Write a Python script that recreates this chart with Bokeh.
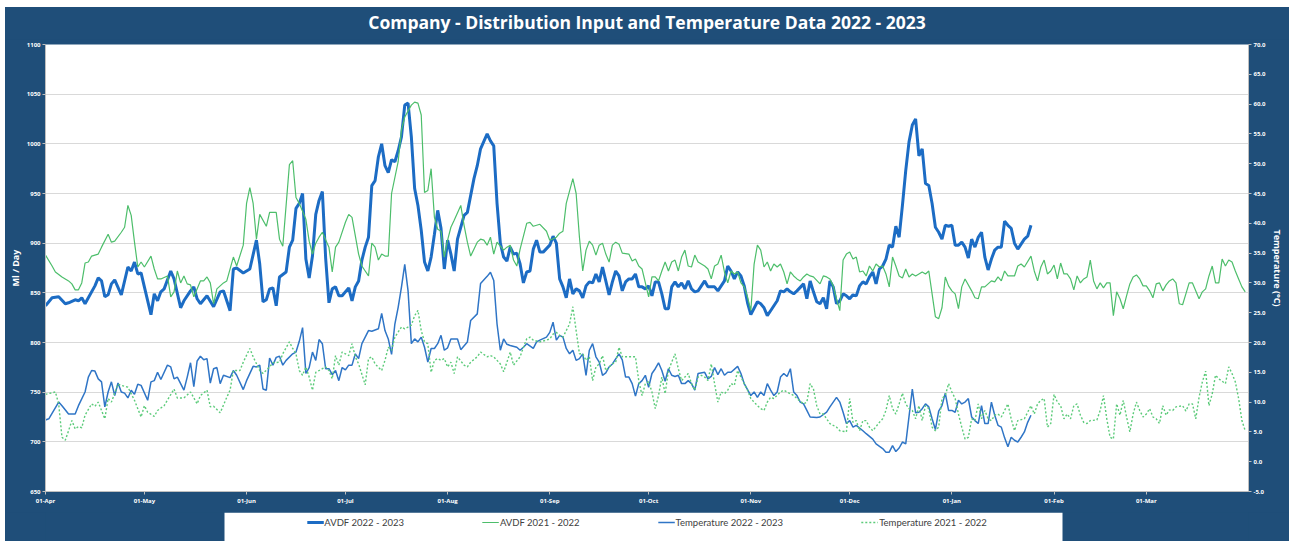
import pandas as pd
from bokeh.plotting import figure
from bokeh.layouts import column
from bokeh.models import (Range1d, LinearAxis, FixedTicker, NumeralTickFormatter,
                          DatetimeTickFormatter, Legend, LegendItem, BoxAnnotation, Div)
from bokeh.embed import file_html
from bokeh.resources import INLINE

TITLE = "Company - Distribution Input and Temperature Data 2022 - 2023"
START = pd.Timestamp("2022-04-01")
END = pd.Timestamp("2023-04-01")
month_starts = pd.date_range("2022-04-01", "2023-03-01", freq="MS")
avdf_ticks = list(range(650, 1101, 50))
temp_ticks = [-5.0, 0.0, 5.0, 10.0, 15.0, 20.0, 25.0, 30.0, 35.0, 40.0, 45.0, 50.0, 55.0, 60.0, 65.0, 70.0]
labels = ["AVDF 2022 - 2023", "AVDF 2021 - 2022", "Temperature 2022 - 2023", "Temperature 2021 - 2022"]

# (day since 01-Apr, Ml/day)
avdf_2223 = [
    (0, 837), (2, 845), (4, 846), (6, 839), (7, 840), (9, 843), (10, 842), (11, 845), (12, 839), (13, 845),
    (15, 857), (16, 865), (17, 862), (18, 846), (19, 848), (20, 859), (21, 863), (23, 848), (25, 876), (26, 872),
    (27, 881), (28, 869), (29, 870), (30, 856), (32, 828), (33, 849), (34, 842), (35, 851), (36, 854), (38, 872),
    (39, 864), (41, 835), (42, 842), (44, 852), (45, 856), (46, 844), (47, 839), (49, 847), (51, 836), (53, 851),
    (54, 852), (56, 832), (57, 874), (58, 875), (60, 870), (61, 872), (62, 874), (64, 903), (65, 879), (66, 841),
    (67, 843), (68, 854), (69, 855), (70, 837), (71, 866), (73, 871), (74, 896), (75, 903),
    (76, 935), (77, 940), (78, 950), (79, 884), (80, 865), (81, 887), (82, 929), (83, 943), (84, 952), (85, 885),
    (86, 840), (87, 854), (88, 856), (89, 847), (90, 847), (92, 855), (93, 842), (94, 856), (95, 862), (96, 883),
    (97, 896), (98, 906), (99, 958), (100, 963), (101, 987), (102, 1000), (103, 978), (104, 971), (105, 984),
    (106, 982), (107, 993), (108, 1007), (109, 1039), (110, 1041), (111, 1007), (112, 955), (113, 938), (114, 913),
    (115, 881), (116, 872), (117, 886), (118, 909), (119, 933), (120, 915), (121, 874), (122, 903), (123, 889),
    (124, 872), (125, 904), (127, 928), (128, 931), (130, 965), (131, 978), (132, 995), (134, 1010), (135, 1003),
    (136, 998), (137, 940), (138, 900), (139, 886), (140, 882), (141, 896), (142, 889), (143, 890), (144, 879),
    (145, 860), (146, 871), (147, 872), (148, 894),
    (149, 903), (150, 891), (151, 891), (153, 898), (154, 907), (155, 900), (156, 864), (157, 856), (158, 845),
    (159, 864), (160, 849), (161, 854), (162, 852), (163, 845), (164, 857), (165, 861), (166, 860), (167, 869),
    (168, 861), (169, 876), (170, 862), (171, 848), (172, 861), (173, 872), (174, 867), (175, 852), (176, 861),
    (177, 864), (178, 864), (179, 869), (180, 856), (181, 856), (182, 854), (183, 857), (184, 847), (185, 861),
    (186, 861), (187, 849), (188, 834), (189, 834), (190, 856), (191, 861), (192, 856), (193, 860), (194, 854),
    (195, 862), (196, 854), (197, 851), (198, 852), (199, 857), (200, 862), (201, 856), (202, 856), (203, 856),
    (204, 852), (205, 857), (206, 862), (207, 877), (208, 872), (209, 864), (210, 871), (211, 867), (212, 857),
    (213, 840), (214, 828), (216, 841), (217, 839), (218, 835), (219, 827), (220, 832),
    (221, 837), (222, 842), (223, 852), (224, 851), (225, 854), (226, 851), (227, 849), (228, 852), (230, 859),
    (231, 844), (232, 862), (233, 851), (234, 841), (235, 839), (236, 845), (237, 834), (238, 862), (239, 856),
    (240, 839), (241, 842), (242, 849), (243, 847), (244, 844), (245, 848), (246, 847), (247, 857), (248, 861),
    (249, 859), (250, 866), (251, 871), (252, 859), (253, 874), (254, 877), (255, 884), (256, 898), (257, 896),
    (258, 917), (259, 906), (260, 938), (261, 973), (262, 1002), (263, 1019), (264, 1025), (265, 988), (266, 995),
    (267, 960), (268, 958), (269, 940), (270, 916), (271, 911), (272, 904), (273, 918), (274, 917), (275, 918),
    (276, 898), (277, 898), (278, 901), (279, 896), (280, 885), (281, 904), (282, 896), (283, 906), (284, 911),
    (285, 886), (286, 873), (287, 884), (288, 893), (289, 896), (290, 896), (291, 922), (292, 918), (293, 915),
    (294, 900), (295, 894), (296, 899), (297, 904), (298, 907), (299, 918),
]

avdf_2122 = [
    (0, 888), (2, 877), (3, 871), (5, 866), (7, 862), (8, 859), (9, 853), (10, 853), (11, 860), (12, 880),
    (13, 881), (14, 887), (16, 889), (17, 896), (19, 909), (20, 901), (21, 902), (23, 911), (24, 916), (25, 938),
    (26, 928), (27, 901), (28, 876), (29, 881), (30, 876), (32, 887), (33, 874), (34, 864), (35, 864), (37, 867),
    (38, 846), (39, 851), (40, 872), (41, 860), (42, 867), (43, 859), (44, 858), (45, 846), (47, 862), (48, 862),
    (49, 866), (50, 860), (51, 839), (52, 854), (54, 860), (55, 862), (57, 886), (58, 877), (60, 898), (61, 940),
    (62, 956), (63, 940), (64, 904), (65, 929), (67, 917), (68, 931), (70, 931), (71, 904), (72, 897), (74, 979),
    (75, 983),
    (76, 946), (77, 940), (78, 932), (79, 924), (80, 902), (81, 889), (82, 900), (83, 906), (84, 911), (86, 896),
    (87, 871), (88, 896), (89, 901), (91, 921), (92, 929), (93, 926), (95, 889), (96, 877), (97, 872), (98, 867),
    (99, 900), (100, 896), (101, 883), (102, 889), (103, 887), (104, 887), (105, 950), (107, 982), (108, 1014),
    (109, 1027), (111, 1039), (112, 1042), (113, 1041), (114, 1029), (115, 951), (116, 953), (117, 975),
    (118, 926), (119, 914), (120, 912), (121, 886), (122, 903), (123, 916), (124, 923), (126, 938), (127, 918),
    (128, 901), (129, 887), (131, 901), (132, 904), (133, 903), (134, 898), (135, 906), (136, 889), (137, 901),
    (139, 893), (140, 896), (141, 898), (142, 883), (143, 877), (144, 894), (146, 920), (147, 921),
    (148, 917), (150, 919), (152, 912), (153, 903), (155, 906), (156, 910), (157, 912), (158, 940), (160, 965),
    (161, 950), (162, 906), (163, 872), (164, 893), (165, 902), (166, 898), (167, 888), (168, 898), (169, 900),
    (170, 889), (171, 881), (172, 898), (173, 901), (174, 899), (175, 890), (177, 889), (178, 882), (179, 884),
    (180, 877), (181, 874), (182, 860), (183, 846), (184, 866), (185, 866), (186, 862), (187, 872), (188, 881),
    (189, 872), (190, 881), (191, 883), (192, 872), (193, 886), (194, 893), (195, 877), (196, 876), (197, 888),
    (198, 881), (199, 879), (200, 877), (201, 874), (202, 864), (203, 877), (204, 879), (205, 888), (206, 871),
    (207, 860), (208, 872), (209, 869), (210, 871), (211, 860), (212, 856), (213, 846), (214, 832), (215, 879),
    (216, 898), (217, 893), (218, 876), (219, 881), (220, 872),
    (221, 879), (222, 876), (223, 879), (224, 871), (225, 859), (226, 871), (227, 867), (228, 864), (229, 862),
    (230, 866), (231, 869), (232, 867), (233, 866), (235, 859), (236, 867), (237, 866), (238, 864), (239, 857),
    (240, 844), (241, 832), (242, 883), (243, 889), (244, 891), (245, 884), (246, 886), (247, 871), (248, 872),
    (249, 867), (250, 877), (251, 872), (252, 879), (253, 876), (254, 877), (255, 869), (256, 856), (257, 886),
    (258, 877), (259, 867), (260, 865), (261, 874), (262, 866), (263, 869), (264, 867), (265, 869), (266, 871),
    (267, 869), (268, 872), (269, 849), (270, 826), (271, 824), (272, 835), (273, 866), (274, 857), (275, 852),
    (276, 849), (277, 834), (278, 856), (279, 864), (281, 852), (282, 845), (283, 844), (284, 856), (285, 856),
    (287, 862), (288, 861), (289, 866), (290, 862), (291, 872), (292, 867),
    (293, 867), (294, 867), (295, 877), (296, 879), (297, 876), (299, 887), (300, 872), (301, 862), (302, 876),
    (303, 883), (304, 869), (305, 872), (306, 878), (307, 864), (308, 880), (309, 869), (310, 869), (311, 864),
    (312, 853), (313, 867), (314, 860), (315, 864), (316, 866), (317, 883), (318, 862), (319, 854), (320, 860),
    (321, 855), (322, 860), (323, 860), (324, 827), (325, 851), (326, 844), (327, 834), (328, 847), (329, 859),
    (330, 866), (331, 868), (332, 864), (333, 857), (334, 857), (335, 852), (336, 845), (337, 859), (338, 860),
    (339, 852), (340, 858), (341, 862), (342, 864), (343, 860), (344, 839), (345, 838), (346, 849), (347, 860),
    (348, 860), (350, 844), (351, 851), (352, 854), (353, 867), (354, 877), (355, 860), (356, 860), (357, 884),
    (358, 877), (359, 883), (360, 881), (361, 872), (362, 864), (363, 856), (364, 851),
]

# (day since 01-Apr, degrees C)
temp_2223 = [
    (0, 7.0), (1, 7.2), (4, 10.0), (5, 9.4), (7, 8.0), (9, 8.0), (10, 9.4), (12, 11.7), (13, 14.2), (14, 15.3),
    (15, 15.2), (16, 13.9), (17, 13.4), (18, 9.2), (19, 11.7), (20, 13.4), (21, 11.1), (22, 13.2), (23, 11.7),
    (24, 11.5), (25, 10.7), (26, 12.0), (27, 11.3), (28, 13.0), (29, 12.8), (31, 10.3), (32, 13.4), (33, 13.6),
    (34, 15.0), (35, 13.8), (37, 16.2), (38, 15.9), (39, 13.9), (40, 14.2), (42, 12.0), (43, 14.2), (44, 16.6),
    (45, 12.6), (46, 16.9), (47, 17.7), (48, 17.1), (49, 17.3), (50, 13.2), (51, 15.6), (52, 15.8), (53, 13.1),
    (54, 14.5), (56, 14.1), (57, 15.3), (58, 14.5), (60, 12.1), (61, 13.6), (63, 16.0), (64, 15.9), (65, 16.2),
    (66, 12.2), (67, 12.0), (68, 17.4), (69, 16.2), (70, 17.5), (71, 17.7), (72, 16.2), (73, 17.0), (75, 18.1),
    (76, 18.4), (77, 20.2), (78, 22.5), (79, 14.8), (80, 15.8), (81, 18.4), (82, 17.0), (83, 20.5), (84, 19.8),
    (85, 15.6), (86, 15.6), (87, 14.6), (88, 15.3), (89, 13.6), (90, 15.8), (91, 15.4), (92, 16.2), (93, 16.2),
    (94, 18.1), (95, 17.3), (96, 19.8), (98, 22.0), (99, 21.9), (101, 22.3), (102, 24.9), (103, 22.0), (104, 20.6),
    (105, 18.0), (106, 23.1), (107, 25.9), (108, 29.3), (109, 33.1), (110, 28.7), (111, 19.8), (112, 20.6),
    (113, 20.1), (114, 20.9), (115, 19.2), (116, 16.7), (117, 19.0), (118, 19.0), (119, 19.8), (120, 21.2),
    (121, 18.7), (122, 19.1), (123, 20.6), (124, 20.6), (125, 20.6), (126, 18.8), (128, 20.1), (129, 23.7),
    (131, 24.8), (132, 29.9), (134, 31.1), (135, 31.8), (136, 30.4), (137, 23.1), (138, 18.7), (139, 20.6),
    (140, 19.7), (141, 19.5), (143, 19.2), (144, 18.7), (145, 19.2), (146, 19.8), (148, 19.0),
    (149, 20.1), (150, 20.4), (152, 20.9), (153, 21.7), (154, 23.4), (155, 20.4), (156, 21.2), (157, 20.9),
    (158, 19.0), (159, 18.1), (160, 18.7), (161, 17.0), (162, 17.3), (163, 18.1), (164, 14.5), (165, 18.7),
    (166, 19.8), (167, 17.6), (168, 16.7), (169, 14.5), (170, 14.9), (171, 15.9), (172, 16.4), (174, 18.1),
    (175, 17.1), (176, 14.2), (177, 14.2), (178, 13.1), (179, 11.0), (180, 13.1), (181, 13.6), (182, 14.5),
    (183, 12.5), (184, 14.8), (185, 15.6), (186, 16.6), (187, 15.3), (188, 13.5), (189, 15.6), (190, 14.5),
    (191, 14.3), (192, 14.5), (193, 13.1), (194, 13.1), (195, 13.6), (196, 13.1), (197, 12.0), (198, 14.8),
    (200, 15.0), (201, 13.9), (202, 14.3), (203, 15.8), (204, 14.6), (205, 15.6), (206, 14.5), (207, 15.0),
    (208, 15.0), (210, 16.0), (211, 14.8), (212, 13.1), (213, 12.1), (214, 11.1), (215, 11.7), (216, 10.8),
    (217, 11.7), (218, 11.1), (219, 13.1), (220, 12.0),
    (221, 11.1), (222, 11.7), (223, 14.2), (224, 14.8), (225, 14.3), (226, 15.6), (227, 11.7), (228, 11.1),
    (229, 10.0), (230, 9.7), (231, 8.6), (232, 7.5), (234, 7.4), (235, 7.5), (237, 8.3), (238, 9.2), (240, 10.8),
    (241, 10.0), (242, 8.3), (243, 6.4), (244, 6.9), (245, 5.8), (246, 6.1), (248, 5.2), (249, 4.7), (251, 3.8),
    (252, 3.0), (254, 2.2), (255, 1.6), (256, 1.6), (257, 2.7), (258, 1.7), (259, 2.3), (260, 3.3), (261, 3.0),
    (263, 12.2), (264, 8.2), (265, 8.3), (266, 8.9), (267, 9.7), (268, 9.2), (269, 7.2), (270, 5.4), (271, 8.5),
    (272, 9.4), (273, 11.5), (274, 8.6), (275, 8.6), (276, 8.3), (277, 10.3), (278, 9.7), (279, 10.0), (280, 10.6),
    (281, 7.5), (282, 6.9), (283, 6.4), (284, 9.4), (285, 6.4), (286, 6.4), (287, 10.0), (288, 7.8), (289, 6.1),
    (290, 5.8), (291, 4.0), (292, 2.5), (293, 4.1), (294, 3.6), (295, 3.3), (296, 4.1), (297, 5.0), (298, 6.6),
    (299, 7.8),
]

temp_2122 = [
    (0, 11.3), (3, 11.7), (4, 9.7), (5, 4.1), (6, 3.6), (7, 5.2), (8, 6.9), (9, 5.5), (10, 5.9), (11, 5.7),
    (12, 7.8), (14, 9.7), (15, 9.3), (16, 10.0), (18, 7.2), (19, 10.6), (20, 10.0), (22, 13.0), (23, 12.8),
    (25, 12.5), (27, 10.3), (29, 7.5), (30, 9.4), (31, 8.3), (33, 7.6), (34, 8.6), (36, 9.4), (39, 12.2),
    (40, 10.7), (42, 10.7), (44, 11.7), (46, 9.7), (47, 11.1), (49, 12.0), (50, 9.2), (51, 9.3), (53, 8.2),
    (55, 10.8), (56, 12.0), (57, 15.3), (59, 15.3), (60, 16.7), (62, 19.0), (63, 17.6), (65, 15.3), (66, 14.8),
    (68, 15.9), (69, 16.6), (71, 16.7), (72, 18.1), (74, 20.1), (75, 19.0),
    (76, 18.1), (77, 15.3), (78, 14.5), (79, 15.9), (80, 14.2), (81, 12.0), (82, 15.0), (84, 15.6), (85, 15.9),
    (86, 15.3), (87, 13.9), (88, 17.8), (89, 16.2), (90, 18.4), (91, 18.1), (92, 17.8), (93, 19.8), (94, 17.6),
    (95, 16.4), (97, 12.9), (98, 17.3), (99, 17.6), (100, 16.4), (102, 15.3), (103, 17.0), (104, 19.2),
    (105, 18.7), (106, 20.9), (108, 22.6), (109, 22.3), (111, 22.9), (112, 24.5), (113, 25.4), (114, 22.0),
    (115, 20.1), (116, 19.8), (117, 15.0), (118, 17.0), (119, 17.3), (120, 17.0), (121, 17.3), (122, 15.9),
    (123, 16.7), (124, 14.8), (125, 17.6), (127, 16.2), (128, 15.9), (129, 16.7), (131, 17.6), (132, 18.4),
    (134, 17.6), (135, 17.8), (136, 17.6), (138, 16.4), (139, 15.1), (140, 16.7), (141, 18.4), (142, 16.2),
    (144, 17.6), (145, 19.2), (146, 20.6), (147, 20.9),
    (148, 20.4), (150, 20.1), (152, 20.4), (153, 20.6), (154, 21.4), (155, 21.7), (156, 21.2), (157, 20.9),
    (159, 23.1), (160, 26.0), (161, 22.0), (162, 18.1), (163, 18.1), (164, 17.0), (165, 17.6), (166, 13.6),
    (167, 15.9), (168, 16.4), (169, 17.8), (170, 15.3), (171, 15.9), (172, 16.4), (173, 16.7), (174, 19.2),
    (175, 17.6), (176, 17.6), (177, 17.6), (179, 17.6), (180, 13.6), (181, 11.1), (182, 13.1), (183, 13.4),
    (184, 11.7), (185, 8.9), (186, 11.1), (187, 14.2), (188, 11.4), (189, 15.3), (190, 16.7), (191, 18.1),
    (192, 15.6), (193, 13.6), (194, 14.2), (195, 14.8), (196, 13.1), (197, 12.0), (198, 14.2), (199, 14.5),
    (200, 14.2), (201, 13.6), (202, 16.4), (203, 13.1), (204, 10.0), (205, 11.7), (206, 11.4), (207, 12.0),
    (208, 13.1), (209, 12.8), (210, 15.3), (211, 14.2), (212, 13.1), (213, 12.0), (214, 10.6), (215, 10.0),
    (216, 9.4), (217, 8.9), (218, 8.6), (219, 10.0), (220, 10.8),
    (221, 10.6), (223, 11.7), (224, 12.0), (225, 11.7), (227, 11.1), (228, 10.6), (230, 9.7), (231, 10.0),
    (232, 13.1), (233, 12.2), (234, 9.4), (235, 8.0), (236, 8.0), (237, 7.2), (238, 6.4), (240, 5.8), (241, 5.2),
    (243, 5.0), (244, 10.6), (245, 6.6), (246, 6.9), (247, 5.2), (248, 6.9), (249, 6.9), (250, 5.8), (251, 5.2),
    (253, 6.6), (254, 7.2), (255, 8.6), (256, 11.1), (257, 8.9), (258, 8.0), (259, 9.7), (260, 11.5), (261, 9.7),
    (262, 8.9), (263, 8.6), (264, 7.2), (265, 9.4), (266, 6.9), (267, 9.4), (268, 8.9), (269, 5.8), (270, 5.2),
    (271, 5.8), (272, 10.6), (273, 11.1), (274, 13.1), (275, 11.7), (276, 10.6), (277, 8.0), (278, 5.8),
    (279, 3.8), (280, 4.1), (281, 7.2), (282, 6.9), (283, 9.7), (284, 7.2), (285, 8.6), (286, 7.2), (287, 6.9),
    (288, 7.8), (289, 8.0), (290, 7.5), (291, 8.6), (292, 9.7),
    (293, 7.2), (294, 5.2), (295, 6.9), (297, 7.2), (298, 8.3), (299, 9.4), (300, 8.0), (301, 9.7), (302, 10.3),
    (303, 10.6), (304, 5.8), (305, 6.4), (306, 11.3), (307, 10.0), (308, 9.4), (309, 7.2), (310, 8.0), (311, 7.2),
    (312, 9.4), (313, 9.7), (314, 7.8), (315, 6.6), (316, 6.4), (317, 6.9), (319, 7.0), (320, 8.6), (321, 11.1),
    (322, 7.2), (323, 4.1), (324, 3.8), (325, 9.7), (326, 7.8), (327, 10.3), (328, 7.5), (329, 5.0), (330, 8.0),
    (331, 10.0), (332, 8.6), (333, 7.5), (334, 8.0), (335, 8.9), (336, 7.5), (337, 7.2), (338, 6.4), (339, 9.4),
    (340, 7.8), (341, 8.7), (342, 8.6), (343, 9.2), (345, 9.4), (346, 8.5), (347, 9.7), (348, 9.7), (349, 7.2),
    (350, 10.8), (351, 13.4), (352, 15.2), (353, 9.4), (354, 11.4), (355, 14.5), (356, 13.9), (357, 13.5),
    (358, 13.1), (359, 15.9), (360, 14.8), (361, 13.4), (362, 10.6), (363, 6.9), (364, 5.2),
]


def xs(pairs):
    return pd.DatetimeIndex([START + pd.Timedelta(days=d) for d, _ in pairs])


def ys(pairs):
    return [v for _, v in pairs]


BG = "#1F4E79"
GRID = "#D9D9D9"
AX = "#BFBFBF"
FONT = "Open Sans"
STYLES = [
    dict(line_color="#1C6CC4", line_width=3),
    dict(line_color="#4DBE6B", line_width=1.2),
    dict(line_color="#2F75C6", line_width=1.5),
    dict(line_color="#5CCB7A", line_width=1.4, line_dash="2 2"),
]
BORDER_L, BORDER_R = 38, 41

# title strip
head = Div(text=TITLE, width=1284, height=32, margin=0,
           styles={"background-color": BG, "color": "white", "font-family": FONT,
                   "font-weight": "bold", "font-size": "17.5px", "text-align": "center",
                   "line-height": "30px", "white-space": "nowrap"})

p = figure(width=1284, height=473, x_axis_type="datetime", output_backend="svg",
           toolbar_location=None, margin=0,
           x_range=Range1d(START, END), y_range=Range1d(650, 1100),
           min_border_left=BORDER_L, min_border_right=BORDER_R, min_border_top=5, min_border_bottom=21,
           border_fill_color=BG, background_fill_color="white", outline_line_color=None)
p.extra_y_ranges = {"temp": Range1d(-5, 70)}

ra = LinearAxis(y_range_name="temp", axis_label="Temperature (°C)",
                ticker=FixedTicker(ticks=temp_ticks),
                formatter=NumeralTickFormatter(format="0.0"))
p.add_layout(ra, "right")

p.yaxis[0].ticker = FixedTicker(ticks=avdf_ticks)
p.yaxis[0].axis_label = "Ml / Day"
p.xaxis[0].ticker = FixedTicker(ticks=[float(t.value // 10**6) for t in month_starts])
p.xaxis[0].formatter = DatetimeTickFormatter(days="%d-%b", months="%d-%b", years="%d-%b",
                                             strip_leading_zeros=False)

for ax in [p.xaxis[0], p.yaxis[0], ra]:
    ax.major_label_text_color = "white"
    ax.major_label_text_font = FONT
    ax.major_label_text_font_size = "6px"
    ax.major_label_text_font_style = "bold"
    ax.major_label_standoff = 2
    ax.axis_line_color = AX
    ax.major_tick_line_color = AX
    ax.major_tick_in = 0
    ax.major_tick_out = 3
    ax.minor_tick_line_color = None
    ax.axis_label_text_color = "white"
    ax.axis_label_text_font = FONT
    ax.axis_label_text_font_size = "9px"
    ax.axis_label_text_font_style = "bold"
    ax.axis_label_standoff = 2

p.xgrid.visible = False
p.ygrid.grid_line_color = GRID
p.ygrid.grid_line_width = 1.2

r1 = p.line(xs(avdf_2223), ys(avdf_2223), **STYLES[0])
r2 = p.line(xs(avdf_2122), ys(avdf_2122), **STYLES[1])
r3 = p.line(xs(temp_2223), ys(temp_2223), y_range_name="temp", **STYLES[2])
r4 = p.line(xs(temp_2122), ys(temp_2122), y_range_name="temp", **STYLES[3])

# legend strip below the chart: white box on the dark background
lg = figure(width=1284, height=29, output_backend="svg", toolbar_location=None, margin=0,
            x_range=Range1d(0, 1), y_range=Range1d(0, 1),
            x_axis_location=None, y_axis_location=None,
            min_border_left=BORDER_L, min_border_right=BORDER_R, min_border_top=0, min_border_bottom=0,
            border_fill_color=BG, background_fill_color=BG, outline_line_color=None)
lg.grid.visible = False
lg.add_layout(BoxAnnotation(left=179, right=1017, left_units="screen", right_units="screen",
                            fill_color="white", fill_alpha=1.0, line_color=None))
dummies = [lg.line([-5, -4], [-5, -4], **s) for s in STYLES]
leg = Legend(items=[LegendItem(label=l, renderers=[r]) for l, r in zip(labels, dummies)],
             location="top_center", orientation="horizontal", padding=1, margin=0, spacing=78,
             glyph_width=17, glyph_height=10, label_height=20, label_standoff=1,
             label_text_font="Lato", label_text_font_size="9.5px", label_text_color="#404040",
             background_fill_alpha=0, border_line_color=None)
lg.add_layout(leg)

page = column(head, p, lg, spacing=0, margin=(7, 0, 0, 5), styles={"background-color": BG})
open("out.html", "w").write(file_html(page, INLINE))
